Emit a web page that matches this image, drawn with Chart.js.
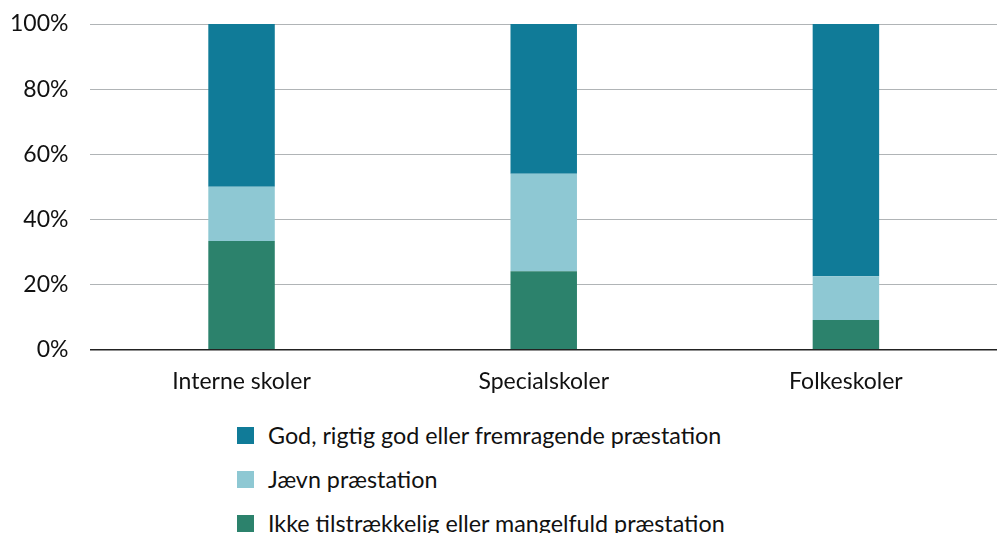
<!DOCTYPE html>
<html>
<head>
<meta charset="utf-8">
<script src="https://cdn.jsdelivr.net/npm/chart.js@4/dist/chart.umd.min.js"></script>
<style>
    html, body { margin: 0; padding: 0; background: #fff; overflow: hidden; }
    #wrap { position: relative; width: 997px; height: 533px; }
    #chartBox { position: absolute; left: 0; top: 0; width: 997px; height: 395px; }
    #legend {
        position: absolute; left: 237px; top: 413px;
        list-style: none; margin: 0; padding: 0;
        font-family: Lato, sans-serif; font-size: 23.3px; color: #111;
    }
    #legend li { display: flex; align-items: center; height: 44px; }
    #legend span.box { width: 17px; height: 17px; margin-right: 14px; display: inline-block; }
</style>
</head>
<body>
<div id="wrap">
    <div id="chartBox"><canvas id="schoolChart"></canvas></div>
    <ul id="legend"></ul>
</div>
<script>
const categories = ['Interne skoler', 'Specialskoler', 'Folkeskoler'];

const seriesLabels = [
    'Ikke tilstrækkelig eller mangelfuld præstation',
    'Jævn præstation',
    'God, rigtig god eller fremragende præstation'
];
const insufficient = [33.3, 24, 9];
const average = [16.7, 30, 13.5];
const good = [50, 46, 77.5];

const yTicks = [0, 20, 40, 60, 80, 100];

const COLORS = ['#2c826c', '#8ec8d3', '#107b98'];

/* ===================================================== */
/* CHART                                                   */
/* ===================================================== */

function buildDatasets() {
    const values = [insufficient, average, good];
    return values.map((v, i) => ({
        label: seriesLabels[i],
        data: v,
        backgroundColor: COLORS[i],
        borderWidth: 0,
        barPercentage: 0.22,
        categoryPercentage: 1
    }));
}

Chart.defaults.font.family = 'Lato, sans-serif';
Chart.defaults.color = '#111';

const chart = new Chart(document.getElementById('schoolChart'), {
    type: 'bar',
    data: {
        labels: categories,
        datasets: buildDatasets()
    },
    options: {
        responsive: true,
        maintainAspectRatio: false,
        animation: false,
        layout: { padding: { top: 24, right: 0, left: 10, bottom: 0 } },
        plugins: {
            legend: { display: false },
            tooltip: { enabled: false }
        },
        scales: {
            x: {
                stacked: true,
                // invisible tick marks give the gap under the axis
                grid: { color: 'transparent', tickLength: 18 },
                border: { color: '#222', width: 1.5 },
                ticks: { font: { size: 23 }, padding: 0, color: '#111' }
            },
            y: {
                stacked: true,
                min: 0,
                max: 100,
                afterBuildTicks: axis => {
                    axis.ticks = yTicks.map(v => ({ value: v }));
                },
                grid: { color: '#b0b4b6', tickLength: 22, tickColor: 'transparent' },
                border: { display: false },
                ticks: {
                    font: { size: 23 },
                    padding: 0,
                    color: '#111',
                    callback: v => v + '%'
                }
            }
        }
    }
});

/* ===================================================== */
/* LEGEND                                                  */
/* ===================================================== */

function renderLegend() {
    const el = document.getElementById('legend');
    el.innerHTML = '';
    for (let i = seriesLabels.length - 1; i >= 0; i--) {
        const li = document.createElement('li');
        li.innerHTML = `<span class="box" style="background:${COLORS[i]}"></span>${seriesLabels[i]}`;
        el.appendChild(li);
    }
}

renderLegend();
</script>
</body>
</html>
